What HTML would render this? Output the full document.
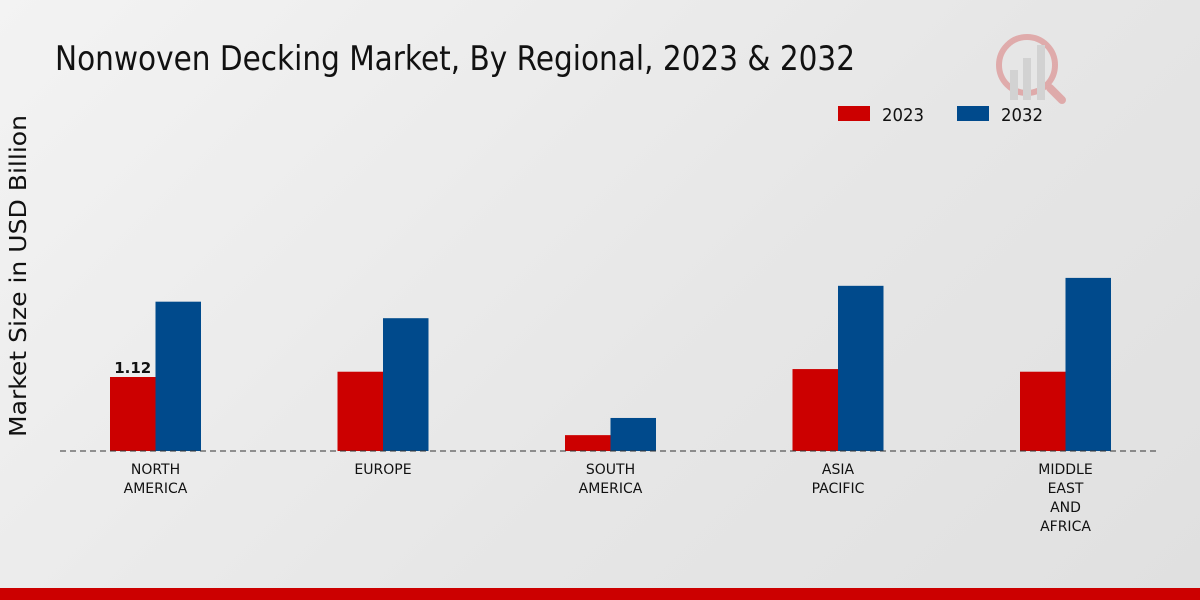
<!DOCTYPE html>
<html><head><meta charset="utf-8"><style>
html,body{margin:0;padding:0;width:1200px;height:600px;overflow:hidden}
body{background:linear-gradient(135deg,#f3f3f3 0%,#e6e6e6 60%,#e0e0e0 100%);font-family:"DejaVu Sans","Liberation Sans",sans-serif}
</style></head><body>
<svg width="1200" height="600" xmlns="http://www.w3.org/2000/svg">
<text x="55" y="70" font-size="34" fill="#111" textLength="800" lengthAdjust="spacingAndGlyphs">Nonwoven Decking Market, By Regional, 2023 &amp; 2032</text>
<g opacity="0.25">
<circle cx="1027" cy="65" r="28" fill="none" stroke="#c00" stroke-width="6"/>
<rect x="1010" y="70" width="8" height="30" fill="#999"/><rect x="1023" y="58" width="8" height="42" fill="#999"/><rect x="1037" y="45" width="8" height="55" fill="#999"/>
<line x1="1050" y1="88" x2="1062" y2="100" stroke="#c00" stroke-width="8" stroke-linecap="round"/>
</g>
<g>
<rect x="838" y="106" width="32" height="15" fill="#cc0000"/>
<text x="882" y="121" font-size="18" fill="#111" textLength="42" lengthAdjust="spacingAndGlyphs">2023</text>
<rect x="957" y="106" width="32" height="15" fill="#004a8c"/>
<text x="1001" y="121" font-size="18" fill="#111" textLength="42" lengthAdjust="spacingAndGlyphs">2032</text>
</g>
<text transform="translate(26,276) rotate(-90)" text-anchor="middle" font-size="23" fill="#111" textLength="322" lengthAdjust="spacingAndGlyphs">Market Size in USD Billion</text>
<g id="bars"></g>
<line x1="60" y1="451" x2="1160" y2="451" stroke="#333" stroke-dasharray="6,4" stroke-width="1"/>
<g id="labels"></g>
<rect x="0" y="588" width="1200" height="12" fill="#cc0000"/>
</svg>
<script>
const categories=[["NORTH","AMERICA"],["EUROPE"],["SOUTH","AMERICA"],["ASIA","PACIFIC"],["MIDDLE","EAST","AND","AFRICA"]];
const values2023=[1.12,1.2,0.24,1.24,1.2];
const values2032=[2.26,2.01,0.5,2.5,2.62];
const ns="http://www.w3.org/2000/svg";
const baseY=451, scale=66.07;
const xCenter=i=>155.5+i*227.5;
const y=v=>baseY-v*scale;
const bars=document.getElementById('bars'), labels=document.getElementById('labels');
function bar(x,v,color,name){
  const r=document.createElementNS(ns,'rect');
  r.setAttribute('x',x);r.setAttribute('y',y(v));r.setAttribute('width',45.5);r.setAttribute('height',baseY-y(v));r.setAttribute('fill',color);
  
  
  bars.appendChild(r);
}
categories.forEach((c,i)=>{
  const cx=xCenter(i);
  bar(cx-45.5,values2023[i],'#cc0000','bar-2023-'+i);
  bar(cx,values2032[i],'#004a8c','bar-2032-'+i);
  c.forEach((line,j)=>{
    const t=document.createElementNS(ns,'text');
    t.setAttribute('x',cx);t.setAttribute('y',474+j*19);t.setAttribute('text-anchor','middle');t.setAttribute('font-size','14');t.setAttribute('fill','#111');
    t.textContent=line;
    
    
    labels.appendChild(t);
  });
});
const vl=document.createElementNS(ns,'text');
vl.setAttribute('x',xCenter(0)-22.75);vl.setAttribute('y',y(values2023[0])-4);vl.setAttribute('text-anchor','middle');vl.setAttribute('font-size','15');vl.setAttribute('font-weight','bold');vl.setAttribute('fill','#111');
vl.textContent=values2023[0].toFixed(2);


labels.appendChild(vl);
</script>
</body></html>
